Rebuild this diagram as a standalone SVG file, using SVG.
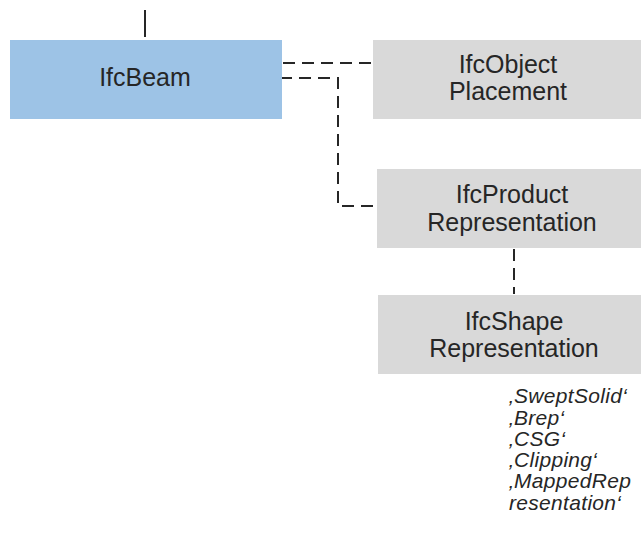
<svg xmlns="http://www.w3.org/2000/svg" width="641" height="534" viewBox="0 0 641 534">
  <style>
    .box-blue { fill: #9DC3E6; }
    .box-grey { fill: #D9D9D9; }
    .label { font-family: "Liberation Sans", Arial, sans-serif; font-size: 25px; fill: #262626; text-anchor: middle; }
    .note { font-family: "Liberation Sans", Arial, sans-serif; font-size: 20px; font-style: italic; letter-spacing: 0.3px; fill: #262626; }
    .dash { fill: none; stroke: #262626; stroke-width: 2; stroke-dasharray: 12 7; }
    .solid { fill: none; stroke: #262626; stroke-width: 2; }
  </style>
  <rect width="641" height="534" fill="#FFFFFF"/>

  <g id="connectors">
    <line class="solid" x1="145" y1="10" x2="145" y2="37"/>
    <line class="dash" x1="283" y1="63" x2="372" y2="63"/>
    <polyline class="dash" points="280,78 338,78 338,206 377,206"/>
    <line class="dash" x1="514" y1="249" x2="514" y2="294"/>
  </g>

  <g id="ifcBeam">
    <rect class="box-blue" x="10" y="40" width="272" height="79"/>
    <text class="label" x="145" y="86">IfcBeam</text>
  </g>

  <g id="ifcObjectPlacement">
    <rect class="box-grey" x="373" y="40" width="280" height="79"/>
    <text class="label" x="508" y="73">IfcObject</text>
    <text class="label" x="508" y="100">Placement</text>
  </g>

  <g id="ifcProductRepresentation">
    <rect class="box-grey" x="377" y="169" width="280" height="79"/>
    <text class="label" x="512" y="203">IfcProduct</text>
    <text class="label" x="512" y="231">Representation</text>
  </g>

  <g id="ifcShapeRepresentation">
    <rect class="box-grey" x="378" y="295" width="280" height="79"/>
    <text class="label" x="514" y="330">IfcShape</text>
    <text class="label" x="514" y="357">Representation</text>
  </g>

  <!-- representation type list, slightly widened -->
  <g id="representationTypes" transform="translate(509 0) scale(1.05 1)">
    <text class="note" x="0" y="403">‚SweptSolid‘</text>
    <text class="note" x="0" y="425">‚Brep‘</text>
    <text class="note" x="0" y="446">‚CSG‘</text>
    <text class="note" x="0" y="467">‚Clipping‘</text>
    <text class="note" x="0" y="488">‚MappedRep</text>
    <text class="note" x="0" y="510">resentation‘</text>
  </g>
</svg>
